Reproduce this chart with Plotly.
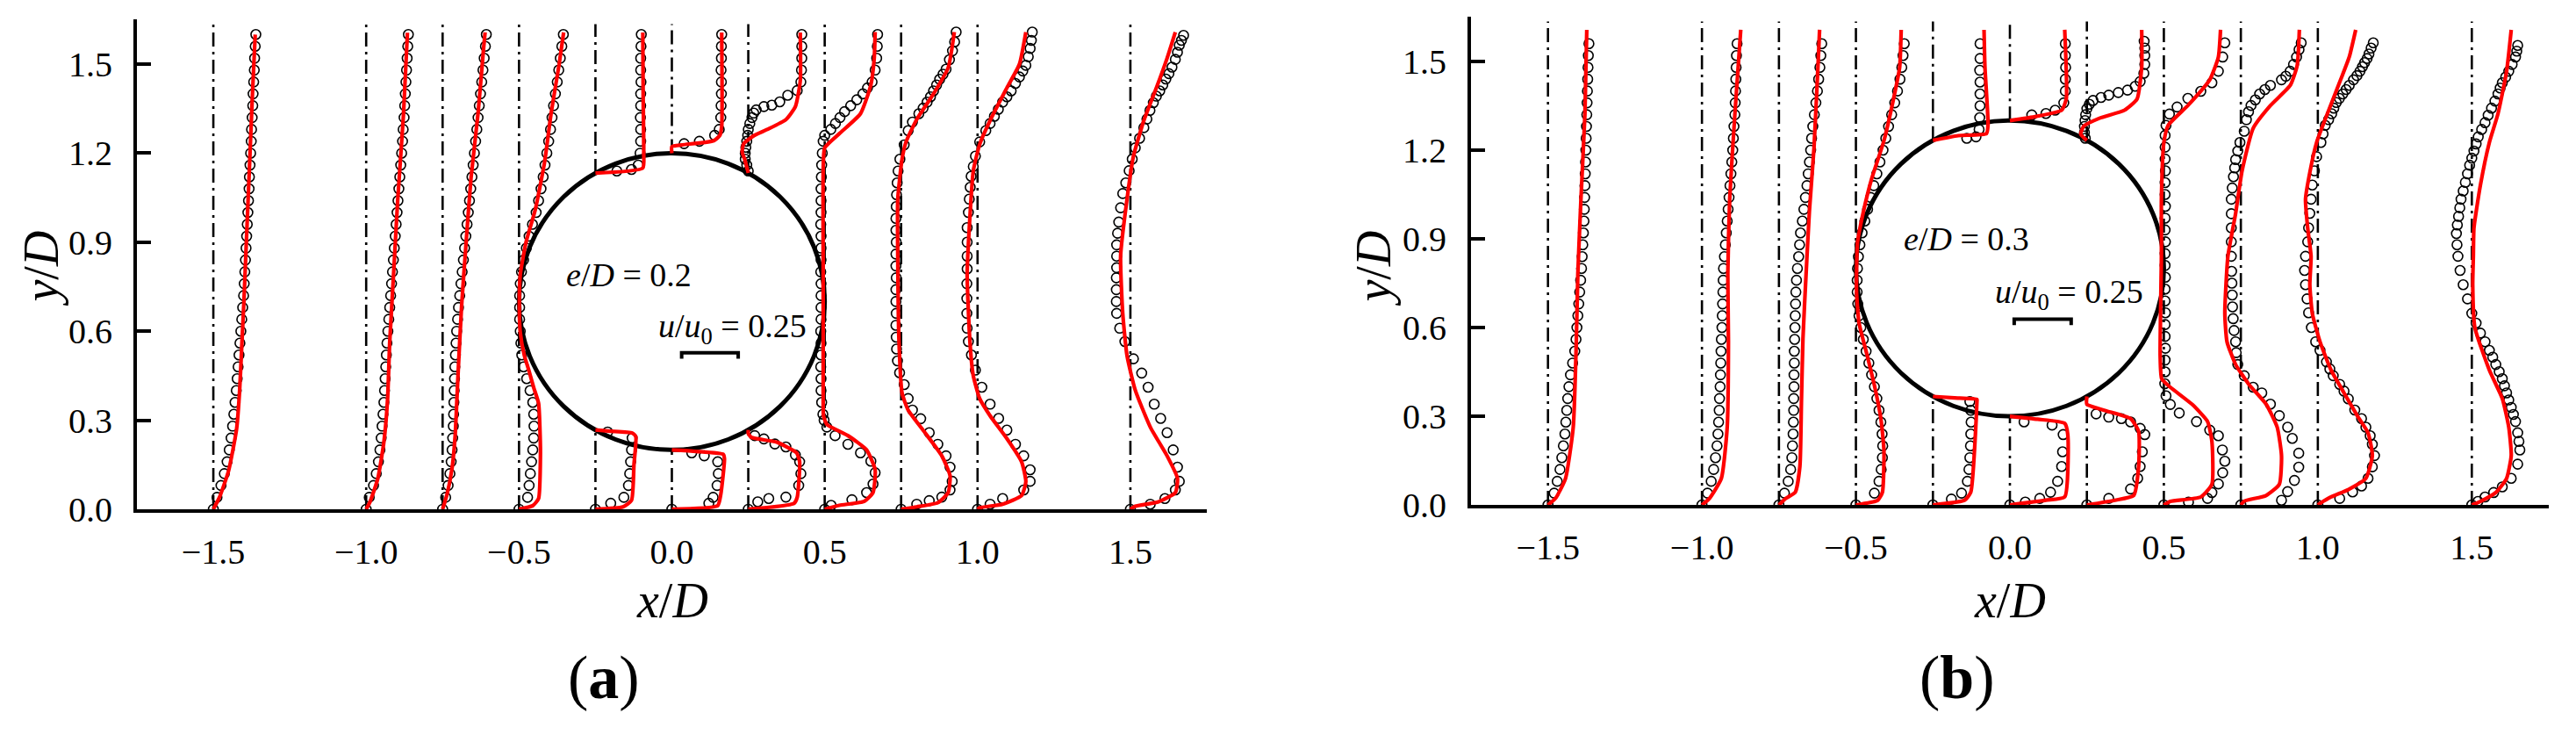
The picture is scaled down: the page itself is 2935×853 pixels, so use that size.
import math
import plotly.graph_objects as go

# ---------------- data ----------------
STATIONS = [-1.5, -1.0, -0.75, -0.5, -0.25, 0.0, 0.25, 0.5, 0.75, 1.0, 1.5]
X_TICKS = [-1.5, -1.0, -0.5, 0.0, 0.5, 1.0, 1.5]
X_TICKTEXT = ["\u22121.5", "\u22121.0", "\u22120.5", "0.0", "0.5", "1.0", "1.5"]
Y_TICKS = [0.0, 0.3, 0.6, 0.9, 1.2, 1.5]
Y_TICKTEXT = ["0.0", "0.3", "0.6", "0.9", "1.2", "1.5"]
GAP_A = 0.2          # e/D panel (a)
GAP_B = 0.3          # e/D panel (b)
SCALE_LABEL_U = 0.25  # u/u0 of scale bar
SCALE_LEN = 0.185     # length of that bar in x/D units

GRID_A = [0.00, 0.04, 0.08, 0.12, 0.16, 0.20, 0.24, 0.28, 0.32, 0.36, 0.40, 0.44, 0.48, 0.52,
          0.56, 0.60, 0.64, 0.68, 0.72, 0.76, 0.80, 0.84, 0.88, 0.92, 0.96, 1.00, 1.04, 1.08,
          1.12, 1.16, 1.20, 1.24, 1.28, 1.32, 1.36, 1.40, 1.44, 1.48, 1.52, 1.56, 1.60]
GRID_B = [0.00, 0.04, 0.08, 0.12, 0.16, 0.20, 0.24, 0.28, 0.32, 0.36, 0.40, 0.44, 0.48, 0.52,
          0.56, 0.60, 0.64, 0.68, 0.72, 0.76, 0.80, 0.84, 0.88, 0.92, 0.96, 1.00, 1.04, 1.08,
          1.12, 1.16, 1.20, 1.24, 1.28, 1.32, 1.36, 1.40, 1.44, 1.48, 1.52, 1.56]

# ---- panel (a), experiment (circles): velocity offset (x/D units) ----
A_E_M150 = [0, 0.012, 0.025, 0.036, 0.045, 0.052, 0.058, 0.063, 0.067, 0.071, 0.075, 0.078, 0.081,
            0.084, 0.087, 0.090, 0.093, 0.096, 0.099, 0.101, 0.103, 0.105, 0.107, 0.109, 0.111,
            0.113, 0.115, 0.117, 0.118, 0.120, 0.122, 0.124, 0.125, 0.127, 0.129, 0.130, 0.132,
            0.134, 0.135, 0.137, 0.139]
A_E_M100 = [0, 0.010, 0.024, 0.033, 0.040, 0.045, 0.049, 0.052, 0.055, 0.058, 0.060, 0.062, 0.064,
            0.066, 0.068, 0.071, 0.074, 0.077, 0.080, 0.083, 0.086, 0.089, 0.092, 0.095, 0.098,
            0.101, 0.104, 0.107, 0.110, 0.113, 0.116, 0.119, 0.121, 0.124, 0.126, 0.128, 0.130,
            0.132, 0.134, 0.136, 0.138]
A_E_M075 = [0, 0.010, 0.018, 0.024, 0.028, 0.031, 0.033, 0.035, 0.036, 0.037, 0.038, 0.039, 0.040,
            0.042, 0.044, 0.046, 0.049, 0.052, 0.056, 0.060, 0.064, 0.068, 0.072, 0.076, 0.080,
            0.084, 0.088, 0.092, 0.096, 0.100, 0.104, 0.108, 0.112, 0.116, 0.120, 0.124, 0.128,
            0.132, 0.136, 0.140, 0.143]
A_E_M050 = [0, 0.028, 0.033, 0.037, 0.041, 0.045, 0.048, 0.049, 0.048, 0.045, 0.036, 0.025, 0.015,
            0.009, 0.006, 0.004, 0.002, 0.002, 0.002, 0.004, 0.008, 0.015, 0.024, 0.033, 0.044,
            0.056, 0.064, 0.072, 0.079, 0.085, 0.091, 0.097, 0.103, 0.108, 0.113, 0.119, 0.125,
            0.130, 0.135, 0.140, 0.145]
A_E_M025 = [(0, 0), (0.02, 0.05), (0.04, 0.093), (0.08, 0.108), (0.12, 0.112), (0.16, 0.115),
            (0.20, 0.118), (0.24, 0.12), (0.26, 0.04), (None, None), (1.14, 0.07), (1.145, 0.118),
            (1.16, 0.14), (1.20, 0.146), (1.24, 0.148), (1.28, 0.148), (1.32, 0.147), (1.36, 0.148),
            (1.40, 0.148), (1.44, 0.149), (1.48, 0.148), (1.52, 0.148), (1.56, 0.149), (1.60, 0.15)]
A_E_000 = [(0, 0), (0.02, 0.121), (0.04, 0.135), (0.08, 0.148), (0.12, 0.152), (0.16, 0.15),
           (0.18, 0.106), (0.19, 0.065), (None, None), (1.232, 0.04), (1.24, 0.09), (1.26, 0.14),
           (1.28, 0.155), (1.32, 0.16), (1.36, 0.161), (1.40, 0.162), (1.44, 0.162), (1.48, 0.161),
           (1.52, 0.162), (1.56, 0.162), (1.60, 0.163)]
A_E_P025 = [(0, 0), (0.025, 0.031), (0.036, 0.067), (0.041, 0.123), (0.08, 0.165), (0.12, 0.172),
            (0.16, 0.168), (0.183, 0.154), (0.21, 0.123), (0.22, 0.087), (0.237, 0.051),
            (0.248, 0.021), (None, None), (1.14, 0.0), (1.16, -0.005), (1.18, -0.01), (1.20, -0.01),
            (1.22, -0.008), (1.24, -0.005), (1.26, -0.002), (1.28, 0.0), (1.30, 0.005),
            (1.32, 0.012), (1.335, 0.018), (1.346, 0.026), (1.357, 0.051), (1.362, 0.077),
            (1.373, 0.103), (1.395, 0.129), (1.411, 0.16), (1.44, 0.172), (1.48, 0.174),
            (1.52, 0.175), (1.56, 0.175), (1.60, 0.175)]
A_E_P050 = [(0, 0), (0.013, 0.021), (0.032, 0.089), (0.056, 0.137), (0.085, 0.158), (0.123, 0.165),
            (0.162, 0.151), (0.19, 0.117), (0.219, 0.076), (0.248, 0.034), (0.277, 0.007),
            (0.30, -0.002), (0.32, -0.006), (0.36, -0.010), (0.40, -0.012), (0.44, -0.012),
            (0.48, -0.013), (0.52, -0.012), (0.56, -0.012), (0.60, -0.013), (0.64, -0.012),
            (0.68, -0.012), (0.72, -0.012), (0.76, -0.012), (0.80, -0.013), (0.84, -0.012),
            (0.88, -0.012), (0.92, -0.012), (0.96, -0.013), (1.00, -0.012), (1.04, -0.012),
            (1.08, -0.012), (1.12, -0.011), (1.16, -0.010), (1.20, -0.008), (1.24, -0.005),
            (1.26, 0.0), (1.28, 0.02), (1.30, 0.035), (1.32, 0.05), (1.34, 0.065), (1.36, 0.085),
            (1.38, 0.105), (1.40, 0.125), (1.42, 0.14), (1.44, 0.155), (1.48, 0.165), (1.52, 0.17),
            (1.56, 0.172), (1.60, 0.173)]
A_E_P075 = [(0, 0), (0.017, 0.051), (0.029, 0.092), (0.041, 0.133), (0.065, 0.16), (0.094, 0.167),
            (0.142, 0.16), (0.18, 0.147), (0.219, 0.12), (0.258, 0.092), (0.305, 0.064),
            (0.334, 0.037), (0.373, 0.023), (0.42, 0.01), (0.46, -0.005), (0.50, -0.012),
            (0.54, -0.015), (0.58, -0.016), (0.62, -0.017), (0.66, -0.016), (0.70, -0.017),
            (0.74, -0.017), (0.78, -0.016), (0.82, -0.017), (0.86, -0.017), (0.90, -0.016),
            (0.94, -0.017), (0.98, -0.017), (1.02, -0.016), (1.06, -0.015), (1.10, -0.013),
            (1.14, -0.010), (1.18, -0.004), (1.228, 0.01), (1.276, 0.023), (1.305, 0.037),
            (1.333, 0.058), (1.352, 0.072), (1.372, 0.085), (1.39, 0.096), (1.41, 0.106),
            (1.43, 0.116), (1.449, 0.126), (1.466, 0.137), (1.483, 0.147), (1.515, 0.158),
            (1.545, 0.168), (1.575, 0.175), (1.608, 0.18)]
A_E_P100 = [(0, 0), (0.017, 0.041), (0.036, 0.082), (0.065, 0.151), (0.094, 0.172), (0.133, 0.172),
            (0.18, 0.151), (0.219, 0.124), (0.267, 0.096), (0.306, 0.069), (0.354, 0.041),
            (0.411, 0.014), (0.469, -0.007), (0.52, -0.02), (0.565, -0.03), (0.61, -0.034),
            (0.66, -0.035), (0.71, -0.035), (0.76, -0.035), (0.81, -0.034), (0.853, -0.034),
            (0.90, -0.034), (0.949, -0.034), (1.00, -0.03), (1.045, -0.027), (1.085, -0.024),
            (1.122, -0.021), (1.155, -0.014), (1.19, -0.007), (1.238, 0.007), (1.276, 0.027),
            (1.30, 0.041), (1.324, 0.055), (1.348, 0.068), (1.372, 0.082), (1.39, 0.096),
            (1.41, 0.11), (1.435, 0.124), (1.457, 0.137), (1.477, 0.148), (1.496, 0.158),
            (1.525, 0.166), (1.553, 0.172), (1.58, 0.176), (1.608, 0.179)]
A_E_P150 = [(0, 0), (0.017, 0.065), (0.036, 0.113), (0.065, 0.147), (0.094, 0.16), (0.142, 0.154),
            (0.20, 0.14), (0.258, 0.12), (0.306, 0.099), (0.354, 0.078), (0.411, 0.058),
            (0.459, 0.037), (0.507, 0.01), (0.565, -0.018), (0.61, -0.035), (0.66, -0.045),
            (0.70, -0.046), (0.74, -0.046), (0.78, -0.046), (0.814, -0.045), (0.853, -0.045),
            (0.891, -0.045), (0.93, -0.042), (0.968, -0.038), (1.016, -0.032), (1.064, -0.025),
            (1.10, -0.015), (1.141, -0.004), (1.18, 0.006), (1.218, 0.016), (1.25, 0.03),
            (1.286, 0.044), (1.315, 0.054), (1.344, 0.064), (1.37, 0.075), (1.392, 0.085),
            (1.41, 0.096), (1.43, 0.106), (1.45, 0.116), (1.468, 0.126), (1.49, 0.136),
            (1.516, 0.147), (1.54, 0.154), (1.564, 0.16), (1.58, 0.167), (1.597, 0.174)]

# ---- panel (a), CFD (red lines): (y/D, offset) knots ----
A_R_M150 = [(0, 0), (0.04, 0.02), (0.13, 0.05), (0.27, 0.076), (0.40, 0.086), (0.55, 0.093),
            (0.70, 0.10), (0.85, 0.106), (1.00, 0.112), (1.20, 0.12), (1.40, 0.128), (1.60, 0.137)]
A_R_M100 = [(0, 0), (0.026, 0.013), (0.103, 0.038), (0.227, 0.058), (0.371, 0.07), (0.563, 0.077),
            (0.80, 0.09), (1.04, 0.103), (1.33, 0.122), (1.606, 0.135)]
A_R_M075 = [(0, 0), (0.052, 0.015), (0.139, 0.031), (0.248, 0.041), (0.465, 0.051), (0.683, 0.062),
            (0.90, 0.077), (1.117, 0.093), (1.335, 0.116), (1.552, 0.134), (1.607, 0.139)]
A_R_M050 = [(0, 0), (0.012, 0.045), (0.036, 0.064), (0.18, 0.07), (0.25, 0.069), (0.357, 0.064),
            (0.41, 0.048), (0.465, 0.033), (0.52, 0.017), (0.596, 0.004), (0.683, 0.001),
            (0.79, 0.004), (0.90, 0.023), (1.009, 0.053), (1.172, 0.084), (1.335, 0.105),
            (1.498, 0.131), (1.607, 0.146)]
A_R_M025 = [(0, 0), (0.008, 0.09), (0.03, 0.118), (0.15, 0.126), (0.245, 0.132), (0.257, 0.12),
            (0.263, 0.05), (0.267, 0.0), (None, None), (1.133, 0.0), (1.15, 0.155), (1.20, 0.158),
            (1.40, 0.156), (1.607, 0.155)]
A_R_000 = [(0, 0), (0.012, 0.15), (0.05, 0.16), (0.17, 0.172), (0.185, 0.168), (0.195, 0.08),
           (0.20, 0.0), (None, None), (1.20, 0.0), (1.222, 0.0), (1.228, 0.034), (1.242, 0.137),
           (1.26, 0.157), (1.29, 0.163), (1.607, 0.163)]
A_R_P025 = [(0, 0), (0.02, 0.15), (0.04, 0.16), (0.16, 0.168), (0.19, 0.158), (0.226, 0.093),
            (0.242, 0.01), (0.255, 0.0), (0.267, 0.0), (None, None), (1.133, 0.0), (1.18, -0.012),
            (1.204, -0.02), (1.232, -0.015), (1.26, 0.02), (1.28, 0.062), (1.313, 0.123),
            (1.357, 0.154), (1.443, 0.17), (1.607, 0.17)]
A_R_P050 = [(0, 0), (0.013, 0.048), (0.027, 0.13), (0.056, 0.158), (0.133, 0.165), (0.20, 0.137),
            (0.248, 0.076), (0.286, 0.007), (0.315, -0.004), (0.36, -0.005), (0.50, -0.005),
            (0.80, -0.005), (1.141, -0.005), (1.218, 0.0), (1.266, 0.048), (1.333, 0.117),
            (1.43, 0.151), (1.52, 0.162), (1.608, 0.165)]
A_R_P075 = [(0, 0), (0.008, 0.051), (0.022, 0.12), (0.056, 0.154), (0.113, 0.16), (0.18, 0.133),
            (0.258, 0.078), (0.334, 0.023), (0.392, 0.003), (0.565, -0.007), (0.853, -0.011),
            (1.045, -0.011), (1.18, 0.003), (1.238, 0.016), (1.314, 0.051), (1.40, 0.106),
            (1.488, 0.154), (1.608, 0.174)]
A_R_P100 = [(0, 0), (0.005, 0.007), (0.017, 0.082), (0.046, 0.144), (0.093, 0.158), (0.16, 0.144),
            (0.238, 0.096), (0.315, 0.041), (0.373, 0.007), (0.45, -0.014), (0.565, -0.025),
            (0.79, -0.034), (0.95, -0.027), (1.14, -0.014), (1.23, 0.007), (1.31, 0.041),
            (1.42, 0.096), (1.50, 0.137), (1.608, 0.158)]
A_R_P150 = [(0, 0), (0.01, 0.016), (0.025, 0.092), (0.056, 0.147), (0.104, 0.154), (0.18, 0.12),
            (0.277, 0.065), (0.401, 0.016), (0.517, -0.011), (0.66, -0.025), (0.853, -0.032),
            (1.045, -0.011), (1.19, 0.01), (1.31, 0.044), (1.42, 0.085), (1.52, 0.12),
            (1.608, 0.147)]

# ---- panel (b), experiment ----
B_E_M150 = [0, 0.020, 0.030, 0.039, 0.045, 0.050, 0.055, 0.058, 0.061, 0.064, 0.068, 0.073, 0.080,
            0.087, 0.091, 0.094, 0.097, 0.100, 0.103, 0.106, 0.109, 0.111, 0.113, 0.115, 0.117,
            0.118, 0.119, 0.120, 0.121, 0.122, 0.123, 0.124, 0.125, 0.126, 0.127, 0.128, 0.129,
            0.130, 0.131, 0.133]
B_E_M100 = [0, 0.018, 0.030, 0.038, 0.044, 0.049, 0.052, 0.054, 0.056, 0.057, 0.059, 0.060, 0.061,
            0.062, 0.063, 0.065, 0.066, 0.067, 0.068, 0.069, 0.070, 0.073, 0.076, 0.079, 0.082,
            0.085, 0.088, 0.091, 0.094, 0.097, 0.100, 0.102, 0.104, 0.107, 0.108, 0.109, 0.110,
            0.111, 0.112, 0.114]
B_E_M075 = [0, 0.018, 0.030, 0.038, 0.042, 0.044, 0.046, 0.047, 0.048, 0.048, 0.049, 0.049, 0.050,
            0.050, 0.051, 0.052, 0.053, 0.054, 0.055, 0.057, 0.060, 0.064, 0.067, 0.070, 0.076,
            0.081, 0.086, 0.091, 0.095, 0.099, 0.103, 0.106, 0.110, 0.115, 0.120, 0.125, 0.129,
            0.133, 0.136, 0.139]
B_E_M050 = [0, 0.060, 0.075, 0.082, 0.086, 0.087, 0.085, 0.081, 0.075, 0.068, 0.060, 0.051, 0.042,
            0.033, 0.024, 0.016, 0.010, 0.006, 0.004, 0.004, 0.005, 0.008, 0.013, 0.020, 0.029,
            0.038, 0.048, 0.058, 0.068, 0.078, 0.088, 0.097, 0.106, 0.116, 0.126, 0.135, 0.143,
            0.149, 0.153, 0.157]
B_E_M025 = [(0, 0), (0.02, 0.06), (0.04, 0.093), (0.08, 0.112), (0.12, 0.117), (0.16, 0.12),
            (0.20, 0.122), (0.24, 0.123), (0.28, 0.124), (0.32, 0.123), (0.35, 0.12), (None, None),
            (1.24, 0.11), (1.245, 0.14), (1.27, 0.15), (1.31, 0.152), (1.35, 0.153), (1.39, 0.153),
            (1.43, 0.153), (1.47, 0.152), (1.51, 0.153), (1.56, 0.153)]
B_E_000 = [(0, 0), (0.01, 0.05), (0.022, 0.097), (0.043, 0.132), (0.08, 0.155), (0.13, 0.168),
           (0.18, 0.171), (0.238, 0.173), (0.27, 0.137), (0.281, 0.046), (None, None),
           (1.319, 0.071), (1.324, 0.117), (1.335, 0.147), (1.36, 0.175), (1.40, 0.18),
           (1.44, 0.18), (1.48, 0.181), (1.52, 0.18), (1.56, 0.18)]
B_E_P025 = [(0, 0), (0.022, 0.071), (0.054, 0.142), (0.09, 0.165), (0.13, 0.173), (0.18, 0.18),
            (0.238, 0.188), (0.259, 0.173), (0.281, 0.142), (0.292, 0.112), (0.297, 0.071),
            (0.308, 0.03), (None, None), (1.24, -0.005), (1.26, -0.008), (1.28, -0.008),
            (1.30, -0.006), (1.32, -0.004), (1.34, 0.0), (1.355, 0.008), (1.368, 0.02),
            (1.378, 0.046), (1.386, 0.071), (1.395, 0.102), (1.403, 0.132), (1.416, 0.157),
            (1.432, 0.173), (1.46, 0.185), (1.49, 0.188), (1.52, 0.188), (1.545, 0.188),
            (1.568, 0.186)]
B_E_P050 = [(0, 0), (0.01, 0.08), (0.022, 0.142), (0.042, 0.156), (0.071, 0.177), (0.109, 0.191),
            (0.148, 0.198), (0.186, 0.19), (0.234, 0.177), (0.253, 0.149), (0.282, 0.106),
            (0.311, 0.05), (0.34, 0.021), (0.369, 0.007), (0.41, 0.003), (0.45, 0.004),
            (0.49, 0.004), (0.53, 0.005), (0.57, 0.004), (0.61, 0.004), (0.65, 0.005),
            (0.69, 0.004), (0.73, 0.004), (0.77, 0.005), (0.81, 0.004), (0.85, 0.004),
            (0.89, 0.005), (0.93, 0.004), (0.97, 0.004), (1.01, 0.005), (1.05, 0.004),
            (1.09, 0.004), (1.13, 0.005), (1.17, 0.004), (1.21, 0.004), (1.25, 0.004),
            (1.284, 0.007), (1.322, 0.018), (1.346, 0.043), (1.375, 0.078), (1.399, 0.12),
            (1.428, 0.156), (1.467, 0.177), (1.515, 0.191), (1.563, 0.198)]
B_E_P075 = [(0, 0), (0.016, 0.132), (0.045, 0.152), (0.083, 0.174), (0.128, 0.188), (0.175, 0.188),
            (0.225, 0.167), (0.263, 0.152), (0.302, 0.125), (0.341, 0.096), (0.379, 0.068),
            (0.398, 0.04), (0.437, 0.011), (0.475, -0.01), (0.515, -0.015), (0.552, -0.017),
            (0.59, -0.022), (0.63, -0.025), (0.67, -0.027), (0.71, -0.028), (0.75, -0.029),
            (0.79, -0.03), (0.841, -0.031), (0.89, -0.031), (0.937, -0.031), (0.985, -0.031),
            (1.034, -0.031), (1.072, -0.028), (1.11, -0.024), (1.14, -0.02), (1.168, -0.017),
            (1.197, -0.01), (1.226, -0.003), (1.264, 0.011), (1.303, 0.018), (1.33, 0.025),
            (1.351, 0.033), (1.37, 0.047), (1.39, 0.061), (1.405, 0.078), (1.419, 0.096),
            (1.438, 0.132), (1.45, 0.146), (1.467, 0.16), (1.49, 0.171), (1.515, 0.181),
            (1.54, 0.189), (1.563, 0.196)]
B_E_P100 = [(0, 0), (0.022, 0.071), (0.044, 0.113), (0.064, 0.142), (0.09, 0.163), (0.129, 0.177),
            (0.167, 0.184), (0.205, 0.177), (0.234, 0.17), (0.263, 0.156), (0.292, 0.142),
            (0.321, 0.12), (0.359, 0.099), (0.385, 0.085), (0.408, 0.071), (0.437, 0.05),
            (0.46, 0.039), (0.484, 0.028), (0.523, 0.007), (0.552, -0.007), (0.60, -0.021),
            (0.65, -0.03), (0.697, -0.035), (0.745, -0.04), (0.793, -0.043), (0.841, -0.04),
            (0.89, -0.033), (0.937, -0.03), (0.986, -0.026), (1.034, -0.022), (1.082, -0.018),
            (1.13, -0.011), (1.178, -0.004), (1.226, 0.01), (1.255, 0.017), (1.284, 0.024),
            (1.303, 0.035), (1.323, 0.045), (1.342, 0.052), (1.361, 0.06), (1.375, 0.07),
            (1.39, 0.081), (1.405, 0.092), (1.419, 0.102), (1.438, 0.116), (1.452, 0.127),
            (1.467, 0.137), (1.482, 0.145), (1.496, 0.152), (1.51, 0.16), (1.525, 0.166),
            (1.545, 0.173), (1.563, 0.18)]
B_E_P150 = [(0, 0), (0.012, 0.02), (0.027, 0.043), (0.042, 0.071), (0.061, 0.099), (0.09, 0.128),
            (0.138, 0.149), (0.186, 0.156), (0.215, 0.153), (0.244, 0.149), (0.282, 0.142),
            (0.306, 0.135), (0.33, 0.128), (0.355, 0.12), (0.379, 0.113), (0.403, 0.106),
            (0.427, 0.099), (0.451, 0.089), (0.475, 0.078), (0.50, 0.068), (0.523, 0.057),
            (0.552, 0.043), (0.581, 0.028), (0.615, 0.014), (0.648, 0.0), (0.697, -0.014),
            (0.745, -0.028), (0.793, -0.038), (0.841, -0.045), (0.88, -0.048), (0.918, -0.05),
            (0.947, -0.047), (0.976, -0.043), (1.005, -0.039), (1.034, -0.035), (1.062, -0.028),
            (1.091, -0.021), (1.12, -0.014), (1.149, -0.007), (1.173, 0.0), (1.197, 0.007),
            (1.221, 0.014), (1.245, 0.021), (1.27, 0.032), (1.293, 0.043), (1.318, 0.053),
            (1.342, 0.064), (1.366, 0.075), (1.39, 0.085), (1.41, 0.092), (1.428, 0.099),
            (1.447, 0.11), (1.467, 0.12), (1.49, 0.131), (1.515, 0.142), (1.535, 0.146),
            (1.554, 0.149)]

# ---- panel (b), CFD ----
B_R_M150 = [(0, 0), (0.023, 0.025), (0.09, 0.057), (0.263, 0.082), (0.552, 0.092), (0.783, 0.097),
            (1.034, 0.107), (1.323, 0.12), (1.607, 0.126)]
B_R_M100 = [(0, 0), (0.023, 0.025), (0.09, 0.063), (0.263, 0.082), (0.552, 0.086), (0.783, 0.084),
            (1.034, 0.09), (1.323, 0.107), (1.607, 0.126)]
B_R_M075 = [(0, 0), (0.022, 0.022), (0.043, 0.053), (0.13, 0.068), (0.346, 0.073), (0.562, 0.078),
            (0.778, 0.088), (0.995, 0.099), (1.21, 0.114), (1.535, 0.129), (1.607, 0.132)]
B_R_M050 = [(0, 0), (0.016, 0.071), (0.043, 0.086), (0.184, 0.091), (0.292, 0.081), (0.40, 0.061),
            (0.508, 0.036), (0.616, 0.01), (0.724, 0.002), (0.886, 0.005), (0.995, 0.025),
            (1.103, 0.051), (1.232, 0.091), (1.373, 0.122), (1.48, 0.142), (1.607, 0.147)]
B_R_M025 = [(0, 0), (0.016, 0.103), (0.043, 0.123), (0.238, 0.138), (0.35, 0.143), (0.357, 0.143),
            (0.362, 0.07), (0.367, 0.0), (None, None), (1.233, 0.0), (1.249, 0.082), (1.256, 0.174),
            (1.286, 0.179), (1.48, 0.169), (1.607, 0.166)]
B_R_000 = [(0, 0), (0.016, 0.117), (0.027, 0.178), (0.238, 0.188), (0.276, 0.178), (0.29, 0.09),
           (0.30, 0.0), (None, None), (1.30, 0.0), (1.314, 0.086), (1.335, 0.168), (1.373, 0.183),
           (1.607, 0.178)]
B_R_P025 = [(0, 0), (0.016, 0.091), (0.032, 0.152), (0.13, 0.168), (0.249, 0.168), (0.292, 0.142),
            (0.319, 0.061), (0.34, 0.0), (0.367, 0.0), (None, None), (1.233, 0.0), (1.254, -0.02),
            (1.281, -0.01), (1.308, 0.041), (1.335, 0.122), (1.373, 0.163), (1.48, 0.178),
            (1.607, 0.178)]
B_R_P050 = [(0, 0), (0.012, 0.021), (0.027, 0.12), (0.07, 0.156), (0.215, 0.156), (0.282, 0.142),
            (0.34, 0.092), (0.398, 0.021), (0.427, -0.007), (0.504, -0.012), (0.841, -0.008),
            (1.034, -0.008), (1.226, 0.0), (1.284, 0.014), (1.351, 0.078), (1.438, 0.149),
            (1.515, 0.177), (1.607, 0.184)]
B_R_P075 = [(0, 0), (0.013, 0.011), (0.032, 0.082), (0.07, 0.125), (0.167, 0.132), (0.263, 0.118),
            (0.341, 0.082), (0.408, 0.026), (0.475, -0.017), (0.552, -0.045), (0.648, -0.052),
            (0.841, -0.042), (0.986, -0.017), (1.13, 0.004), (1.274, 0.04), (1.351, 0.096),
            (1.42, 0.161), (1.487, 0.183), (1.607, 0.19)]
B_R_P100 = [(0, 0), (0.005, 0.007), (0.027, 0.043), (0.052, 0.099), (0.09, 0.156), (0.167, 0.177),
            (0.244, 0.163), (0.302, 0.128), (0.379, 0.085), (0.456, 0.043), (0.552, 0.007),
            (0.648, -0.018), (0.745, -0.026), (0.841, -0.022), (0.937, -0.033), (1.034, -0.04),
            (1.13, -0.025), (1.226, -0.004), (1.323, 0.031), (1.438, 0.074), (1.515, 0.102),
            (1.607, 0.123)]
B_R_P150 = [(0, 0), (0.012, 0.028), (0.042, 0.078), (0.09, 0.113), (0.167, 0.128), (0.263, 0.12),
            (0.36, 0.099), (0.456, 0.057), (0.60, 0.01), (0.745, 0.003), (0.841, 0.005),
            (0.937, 0.007), (1.082, 0.028), (1.226, 0.057), (1.323, 0.085), (1.467, 0.113),
            (1.607, 0.128)]

assert len(A_E_M150) == len(A_E_M100) == len(A_E_M075) == len(A_E_M050) == len(GRID_A)
assert len(B_E_M150) == len(B_E_M100) == len(B_E_M075) == len(B_E_M050) == len(GRID_B)

A_EXP = [list(zip(GRID_A, A_E_M150)), list(zip(GRID_A, A_E_M100)), list(zip(GRID_A, A_E_M075)),
         list(zip(GRID_A, A_E_M050)), A_E_M025, A_E_000, A_E_P025, A_E_P050, A_E_P075, A_E_P100,
         A_E_P150]
A_CFD = [A_R_M150, A_R_M100, A_R_M075, A_R_M050, A_R_M025, A_R_000, A_R_P025, A_R_P050, A_R_P075,
         A_R_P100, A_R_P150]
B_EXP = [list(zip(GRID_B, B_E_M150)), list(zip(GRID_B, B_E_M100)), list(zip(GRID_B, B_E_M075)),
         list(zip(GRID_B, B_E_M050)), B_E_M025, B_E_000, B_E_P025, B_E_P050, B_E_P075, B_E_P100,
         B_E_P150]
B_CFD = [B_R_M150, B_R_M100, B_R_M075, B_R_M050, B_R_M025, B_R_000, B_R_P025, B_R_P050, B_R_P075,
         B_R_P100, B_R_P150]

# ---------------- style ----------------
FONT = "Liberation Serif, Times New Roman, serif"
RED = "#ff0000"
LINE_TOP = 1.635
X_RANGE = [-1.75, 1.75]
Y_RANGE = [0.0, 1.65]


def profile_xy(station, pairs):
    xs, ys = [], []
    for y, u in pairs:
        if y is None:
            xs.append(None)
            ys.append(None)
        else:
            xs.append(station + u)
            ys.append(y)
    return xs, ys


def build_panel(fig, exp_list, cfd_list, gap, xref, yref):
    radius = 0.5
    yc = gap + radius
    # dash-dot station lines
    lx, ly = [], []
    for s in STATIONS:
        if abs(s) < radius - 1e-9:
            h = math.sqrt(radius ** 2 - s ** 2)
            segs = [(0.0, yc - h), (yc + h, LINE_TOP)]
        else:
            segs = [(0.0, LINE_TOP)]
        for a, b in segs:
            lx += [s, s, None]
            ly += [a, b, None]
    fig.add_trace(go.Scatter(x=lx, y=ly, mode="lines", xaxis=xref, yaxis=yref,
                             line=dict(color="black", width=2.6, dash="16px,6px,3px,6px"),
                             hoverinfo="skip", showlegend=False))
    # experiment circles
    ex, ey = [], []
    for s, prof in zip(STATIONS, exp_list):
        x, y = profile_xy(s, prof)
        ex += x + [None]
        ey += y + [None]
    fig.add_trace(go.Scatter(x=ex, y=ey, mode="markers", xaxis=xref, yaxis=yref,
                             marker=dict(symbol="circle-open", size=11, color="black",
                                         line=dict(width=1.6, color="black")),
                             showlegend=False))
    # CFD red lines
    rx, ry = [], []
    for s, prof in zip(STATIONS, cfd_list):
        x, y = profile_xy(s, prof)
        rx += x + [None]
        ry += y + [None]
    fig.add_trace(go.Scatter(x=rx, y=ry, mode="lines", xaxis=xref, yaxis=yref,
                             line=dict(color=RED, width=4.2, shape="spline", smoothing=0.5),
                             connectgaps=False, showlegend=False))
    sx = "x" if xref == "x" else "x2"
    sy = "y" if yref == "y" else "y2"
    fig.add_shape(type="circle", xref=sx, yref=sy, x0=-radius, x1=radius, y0=gap, y1=gap + 2 * radius,
                  line=dict(color="black", width=5), layer="below")


fig = go.Figure()
build_panel(fig, A_EXP, A_CFD, GAP_A, "x", "y")
build_panel(fig, B_EXP, B_CFD, GAP_B, "x2", "y2")

axis_common = dict(showgrid=False, zeroline=False, showline=True, linecolor="black", linewidth=4,
                   tickfont=dict(family=FONT, size=40, color="black"))
xa = dict(axis_common, range=X_RANGE, tickvals=X_TICKS, ticktext=X_TICKTEXT, ticks="",
          ticklabelstandoff=10)
ya = dict(axis_common, range=Y_RANGE, tickvals=Y_TICKS, ticktext=Y_TICKTEXT, ticks="inside",
          ticklen=16, tickwidth=4, tickcolor="black", ticklabelstandoff=16)

fig.update_layout(
    width=2935, height=853, autosize=False,
    margin=dict(l=0, r=0, t=0, b=0),
    paper_bgcolor="white", plot_bgcolor="white",
    xaxis=dict(xa, domain=[156 / 2935, 1375 / 2935], anchor="y"),
    yaxis=dict(ya, domain=[1 - 596 / 853, 1 - 23 / 853], anchor="x"),
    xaxis2=dict(xa, domain=[1676 / 2935, 2904 / 2935], anchor="y2"),
    yaxis2=dict(ya, domain=[1 - 591 / 853, 1 - 20 / 853], anchor="x2"),
)

ann_font = dict(family=FONT, size=38, color="black")
title_font = dict(family=FONT, size=56, color="black")
label_font = dict(family=FONT, size=70, color="black")
annotations = []
for xr, yr, gap, ex_x, ex_y, ux, uy, bx0, by, paper_axis_x, paper_mid, paper_lab, lab in [
    ("x", "y", GAP_A, -0.352, 0.79, 0.197, 0.61, 0.032, 0.527, 47 / 2935, 765.5 / 2935, 688 / 2935, "a"),
    ("x2", "y2", GAP_B, -0.351, 0.90, 0.193, 0.714, 0.014, 0.628, 1565 / 2935, 2290 / 2935, 2230 / 2935, "b"),
]:
    annotations.append(dict(xref=xr, yref=yr, x=ex_x, y=ex_y, xanchor="left", yanchor="middle",
                            text="<i>e</i>/<i>D</i> = %.1f" % gap, showarrow=False, font=ann_font))
    annotations.append(dict(xref=xr, yref=yr, x=ux, y=uy, xanchor="center", yanchor="middle",
                            text="<i>u</i>/<i>u</i><sub>0</sub> = %.2f" % SCALE_LABEL_U,
                            showarrow=False, font=ann_font))
    fig.add_shape(type="path", xref=xr, yref=yr,
                  path="M %f,%f L %f,%f L %f,%f L %f,%f" % (bx0, by - 0.02, bx0, by, bx0 + SCALE_LEN, by,
                                                             bx0 + SCALE_LEN, by - 0.02),
                  line=dict(color="black", width=4))
    annotations.append(dict(xref="paper", yref="paper", x=paper_axis_x, y=1 - 314 / 853,
                            xanchor="center", yanchor="middle", textangle=-90,
                            text="<i>y</i>/<i>D</i>", showarrow=False, font=title_font))
    annotations.append(dict(xref="paper", yref="paper", x=paper_mid, y=1 - 703 / 853,
                            xanchor="center", yanchor="middle",
                            text="<i>x</i>/<i>D</i>", showarrow=False, font=title_font))
    annotations.append(dict(xref="paper", yref="paper", x=paper_lab, y=1 - 793 / 853,
                            xanchor="center", yanchor="middle",
                            text="(<b>%s</b>)" % lab, showarrow=False, font=label_font))
fig.update_layout(annotations=annotations)

fig.write_html("out.html", config={"displayModeBar": False},
               post_script="document.body.style.margin='0';")
